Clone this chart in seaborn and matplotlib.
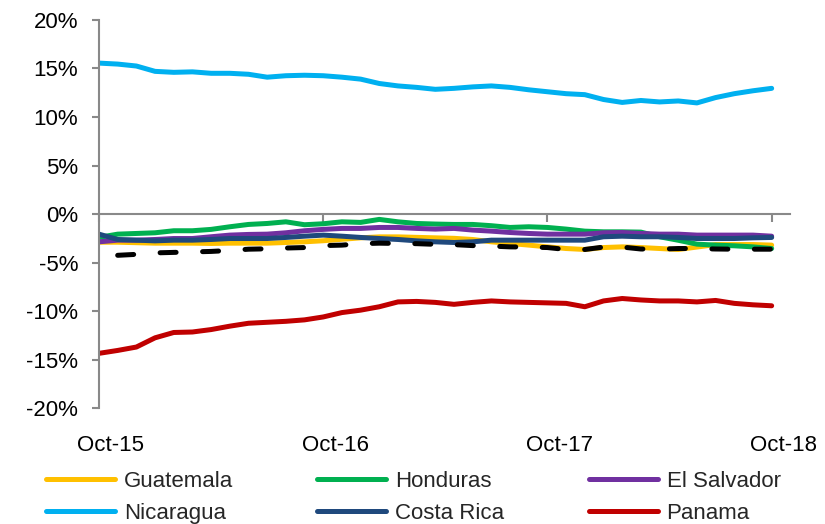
import numpy as np
import pandas as pd
import matplotlib
matplotlib.use("Agg")
import matplotlib.pyplot as plt
import matplotlib.ticker as mticker
from matplotlib.transforms import ScaledTranslation
import seaborn as sns

# monthly data, Oct-15 .. Oct-18 (percent)
dates = pd.date_range("2015-10-01", "2018-10-01", freq="MS")

guatemala = [-2.9, -2.9, -2.95, -3.0, -3.0, -3.0, -3.03, -3.0, -3.0, -3.0,
             -2.93, -2.86, -2.75, -2.6, -2.45, -2.35, -2.35, -2.4, -2.45, -2.5,
             -2.62, -2.86, -3.03, -3.2, -3.38, -3.55, -3.65, -3.45, -3.38, -3.45,
             -3.55, -3.65, -3.4, -3.14, -3.14, -3.14, -3.2]
honduras = [-2.4, -2.07, -2.0, -1.93, -1.72, -1.72, -1.58, -1.31, -1.07, -0.97,
            -0.8, -1.1, -1.0, -0.8, -0.86, -0.55, -0.8, -0.97, -1.03, -1.07,
            -1.07, -1.2, -1.38, -1.31, -1.38, -1.55, -1.76, -1.83, -1.83, -1.86,
            -2.34, -2.7, -3.1, -3.2, -3.27, -3.38, -3.55]
el_salvador = [-2.86, -2.69, -2.69, -2.62, -2.52, -2.52, -2.34, -2.17, -2.1, -2.07,
               -1.93, -1.72, -1.58, -1.48, -1.48, -1.38, -1.38, -1.48, -1.55, -1.48,
               -1.65, -1.76, -1.9, -2.0, -2.07, -2.07, -2.07, -1.93, -1.9, -2.0,
               -2.07, -2.07, -2.17, -2.17, -2.17, -2.17, -2.28]
nicaragua = [15.55, 15.45, 15.25, 14.7, 14.6, 14.65, 14.5, 14.5, 14.4, 14.1,
             14.25, 14.3, 14.25, 14.1, 13.9, 13.45, 13.2, 13.05, 12.85, 12.95,
             13.1, 13.2, 13.05, 12.8, 12.6, 12.4, 12.3, 11.8, 11.5, 11.7,
             11.55, 11.65, 11.45, 12.0, 12.4, 12.7, 12.95]
costa_rica = [-2.07, -2.62, -2.69, -2.76, -2.69, -2.69, -2.62, -2.52, -2.52, -2.52,
              -2.41, -2.28, -2.17, -2.28, -2.41, -2.52, -2.62, -2.76, -2.86, -2.93,
              -2.86, -2.69, -2.69, -2.69, -2.69, -2.69, -2.69, -2.34, -2.28, -2.34,
              -2.34, -2.41, -2.52, -2.52, -2.52, -2.45, -2.41]
panama = [-14.35, -14.05, -13.7, -12.75, -12.2, -12.15, -11.9, -11.55, -11.25, -11.15,
          -11.05, -10.9, -10.6, -10.15, -9.9, -9.55, -9.05, -9.0, -9.1, -9.3,
          -9.1, -8.95, -9.05, -9.1, -9.15, -9.2, -9.55, -8.95, -8.7, -8.85,
          -8.95, -8.95, -9.05, -8.9, -9.2, -9.35, -9.45]
average = [np.nan, -4.25, -4.15, -4.0, -3.95, -3.9, -3.85, -3.75, -3.62, -3.58,
           -3.5, -3.45, -3.25, -3.2, -3.05, -3.0, -3.03, -3.05, -3.12, -3.15,
           -3.25, -3.3, -3.38, -3.4, -3.45, -3.65, -3.65, -3.4, -3.4, -3.6,
           -3.62, -3.55, -3.55, -3.6, -3.62, -3.62, -3.62]

tick_labels = ["Oct-15", "Oct-16", "Oct-17", "Oct-18"]

series = [("Guatemala", guatemala, "#FFC000"),
          ("Honduras", honduras, "#00B050"),
          ("El Salvador", el_salvador, "#7030A0"),
          ("Nicaragua", nicaragua, "#00B0F0"),
          ("Costa Rica", costa_rica, "#1F497D"),
          ("Panama", panama, "#C00000")]

sns.set_theme(style="white")
plt.rcParams["font.family"] = ["Liberation Sans", "DejaVu Sans"]

fig = plt.figure(figsize=(8.25, 5.24), dpi=100)
ax = fig.add_axes([0.12, 0.221, 0.838, 0.741])

x = np.arange(len(dates))
handles = {}
for name, vals, col in series:
    sns.lineplot(x=x, y=vals, ax=ax, color=col, linewidth=3.6, label=name,
                 solid_capstyle="round")
    handles[name] = ax.lines[-1]

sns.lineplot(x=x, y=average, ax=ax, color="black", linewidth=3.6)
avg_line = ax.lines[-1]
avg_line.set_dashes((3.2, 5.3))
avg_line.set_dash_capstyle("round")

ax.set_ylim(-20, 20)
ax.set_xlim(0, 37)
ax.yaxis.set_major_locator(mticker.MultipleLocator(5))
ax.yaxis.set_major_formatter(mticker.FuncFormatter(lambda v, p: f"{v:.0f}%"))

grey = "#898989"
for s in ["top", "right"]:
    ax.spines[s].set_visible(False)
ax.spines["left"].set_color(grey)
ax.spines["left"].set_linewidth(1.5)
ax.spines["bottom"].set_position(("data", 0))
ax.spines["bottom"].set_color(grey)
ax.spines["bottom"].set_linewidth(1.5)

tick_pos = [i for i, d in enumerate(dates) if d.month == 10]
ax.set_xticks(tick_pos)
ax.tick_params(axis="x", direction="out", length=6, width=1.5, color=grey,
               labelbottom=False, bottom=True)
ax.tick_params(axis="y", direction="out", length=5, width=1.5, color=grey,
               left=True, labelsize=16, pad=10, labelcolor="black")
ax.set_xlabel("")
ax.set_ylabel("")

sec = ax.secondary_xaxis(0)
sec.set_xticks(tick_pos)
sec.set_xticklabels(tick_labels)
sec.tick_params(length=0, labelsize=16, pad=19, labelcolor="black")
sec.spines["bottom"].set_visible(False)
for lab in sec.get_xticklabels():
    lab.set_transform(lab.get_transform() + ScaledTranslation(0.12, 0, fig.dpi_scale_trans))

ax.get_legend().remove()
order = ["Guatemala", "Nicaragua", "Honduras", "Costa Rica", "El Salvador", "Panama"]
fig.legend([handles[n] for n in order], order, ncol=3, loc="upper left",
           bbox_to_anchor=(46 / 825, 0.102), frameon=False, fontsize=16,
           handlelength=3.1, handletextpad=0.4, columnspacing=3.8,
           labelspacing=0.5, borderpad=0, borderaxespad=0)

fig.savefig("out.png", dpi=100)
